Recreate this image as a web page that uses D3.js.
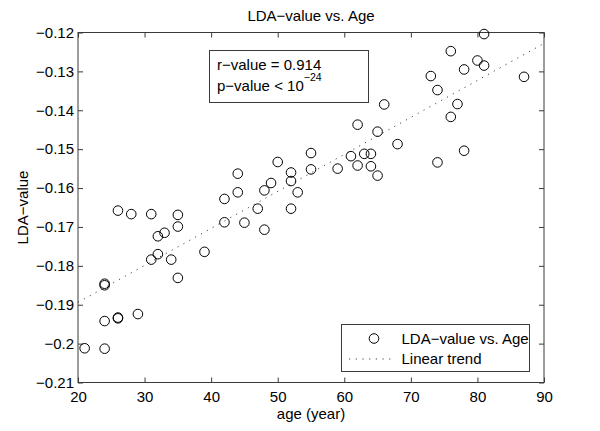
<!DOCTYPE html>
<html>
<head>
<meta charset="utf-8">
<script src="https://cdn.jsdelivr.net/npm/d3@7"></script>
<style>
  html, body { margin: 0; padding: 0; background: #fff; }
  svg { display: block; font-family: "Liberation Sans", Arial, Helvetica, sans-serif; }
</style>
</head>
<body>
<svg id="chart" width="600" height="431"></svg>
<script>
// ---- data ----
const ages = [21, 24, 24, 24, 24, 26, 26, 26, 28, 29, 31, 31, 32, 32, 33, 34, 35, 35, 35, 39,
              42, 42, 44, 44, 45, 47, 48, 48, 49, 50, 52, 52, 52, 53, 55, 55, 59, 61, 62, 62,
              63, 64, 64, 65, 65, 66, 68, 73, 74, 74, 76, 76, 77, 78, 78, 80, 81, 81, 87];
const ldaValues = [-0.2012, -0.2013, -0.1942, -0.1846, -0.1850, -0.1933, -0.1935, -0.1658, -0.1667, -0.1924,
                   -0.1667, -0.1784, -0.1724, -0.1770, -0.1715, -0.1784, -0.1669, -0.1699, -0.1831, -0.1764,
                   -0.1628, -0.1688, -0.1563, -0.1611, -0.1689, -0.1653, -0.1606, -0.1707, -0.1587, -0.1533,
                   -0.1560, -0.1582, -0.1653, -0.1611, -0.1510, -0.1552, -0.1550, -0.1518, -0.1437, -0.1542,
                   -0.1512, -0.1512, -0.1544, -0.1455, -0.1568, -0.1385, -0.1487, -0.1312, -0.1348, -0.1534,
                   -0.1248, -0.1417, -0.1384, -0.1295, -0.1504, -0.1272, -0.1285, -0.1204, -0.1314];
const trendAges = [20, 90];
const trendValues = [-0.1894, -0.1228];
const xTicks = [20, 30, 40, 50, 60, 70, 80, 90];
const xTickLabels = ["20", "30", "40", "50", "60", "70", "80", "90"];
const yTicks = [-0.21, -0.20, -0.19, -0.18, -0.17, -0.16, -0.15, -0.14, -0.13, -0.12];
const yTickLabels = ["\u22120.21", "\u22120.2", "\u22120.19", "\u22120.18", "\u22120.17", "\u22120.16", "\u22120.15", "\u22120.14", "\u22120.13", "\u22120.12"];
const titleText = "LDA\u2212value vs. Age";
const xLabelText = "age (year)";
const yLabelText = "LDA\u2212value";
const statsLines = ["r\u2212value = 0.914", "p\u2212value < 10"];
const statsExponent = "\u221224";
const legendLabels = ["LDA\u2212value vs. Age", "Linear trend"];

// ---- layout ----
const W = 600, H = 431;
const m = { left: 78, right: 56, top: 32.5, bottom: 48.5 };
const iw = W - m.left - m.right, ih = H - m.top - m.bottom;
const axisColor = "#3a3a3a";
const fs = 15;

const svg = d3.select("#chart");
const g = svg.append("g").attr("transform", `translate(${m.left},${m.top})`);

const x = d3.scaleLinear().domain([20, 90]).range([0, iw]);
const y = d3.scaleLinear().domain([-0.21, -0.12]).range([ih, 0]);

// axes (MATLAB style: inward ticks on all four sides)
const tickLen = 5;
function styleAxis(sel) {
  sel.attr("font-family", null).attr("font-size", null);
  sel.select(".domain").remove();
  sel.selectAll(".tick line").attr("stroke", axisColor);
  sel.selectAll(".tick text").attr("fill", "#000").style("font-size", fs + "px");
}
g.append("g").attr("transform", `translate(0,${ih})`)
  .call(d3.axisBottom(x).tickValues(xTicks).tickFormat((d, i) => xTickLabels[i]).tickSize(-tickLen).tickPadding(9))
  .call(styleAxis);
g.append("g")
  .call(d3.axisTop(x).tickValues(xTicks).tickFormat("").tickSize(-tickLen))
  .call(styleAxis);
g.append("g")
  .call(d3.axisLeft(y).tickValues(yTicks).tickFormat((d, i) => yTickLabels[i]).tickSize(-tickLen).tickPadding(4))
  .call(styleAxis);
g.append("g").attr("transform", `translate(${iw},0)`)
  .call(d3.axisRight(y).tickValues(yTicks).tickFormat("").tickSize(-tickLen))
  .call(styleAxis);

// frame
g.append("rect").attr("x", 0).attr("y", 0).attr("width", iw).attr("height", ih)
  .attr("fill", "none").attr("stroke", axisColor).attr("stroke-width", 1);

// trend line
const line = d3.line().x(d => x(d[0])).y(d => y(d[1]));
g.append("path")
  .datum(trendAges.map((a, i) => [a, trendValues[i]]))
  .attr("d", line)
  .attr("fill", "none").attr("stroke", "#444").attr("stroke-width", 1)
  .attr("stroke-dasharray", "1.2,5.5");

// points
g.selectAll("circle.pt")
  .data(ages.map((a, i) => [a, ldaValues[i]]))
  .join("circle").attr("class", "pt")
  .attr("cx", d => x(d[0])).attr("cy", d => y(d[1])).attr("r", 4.8)
  .attr("fill", "none").attr("stroke", "#000").attr("stroke-width", 1);

// title & axis labels
svg.append("text").attr("x", m.left + iw / 2).attr("y", 20.5).attr("text-anchor", "middle")
  .style("font-size", fs + "px").text(titleText);
svg.append("text").attr("x", m.left + iw / 2).attr("y", 419).attr("text-anchor", "middle")
  .style("font-size", fs + "px").text(xLabelText);
svg.append("text").attr("transform", `translate(28,${m.top + ih / 2}) rotate(-90)`).attr("text-anchor", "middle")
  .style("font-size", fs + "px").text(yLabelText);

// statistics box
svg.append("rect").attr("x", 209.5).attr("y", 50.5).attr("width", 159).attr("height", 52)
  .attr("fill", "#fff").attr("stroke", axisColor);
svg.append("text").attr("x", 217).attr("y", 69.5).style("font-size", fs + "px").text(statsLines[0]);
const pt = svg.append("text").attr("x", 217).attr("y", 90.5).style("font-size", fs + "px");
pt.append("tspan").text(statsLines[1]);
pt.append("tspan").attr("dy", -9.5).style("font-size", "10.5px").text(statsExponent);

// legend
svg.append("rect").attr("x", 341.5).attr("y", 324.5).attr("width", 188).attr("height", 47)
  .attr("fill", "#fff").attr("stroke", axisColor);
svg.append("circle").attr("cx", 374).attr("cy", 338.5).attr("r", 4.8)
  .attr("fill", "none").attr("stroke", "#000");
svg.append("line").attr("x1", 349).attr("x2", 392).attr("y1", 359).attr("y2", 359)
  .attr("stroke", "#444").attr("stroke-dasharray", "1.2,5.5");
svg.append("text").attr("x", 401.5).attr("y", 343.5).style("font-size", fs + "px").text(legendLabels[0]);
svg.append("text").attr("x", 401.5).attr("y", 364).style("font-size", fs + "px").text(legendLabels[1]);
</script>
</body>
</html>
